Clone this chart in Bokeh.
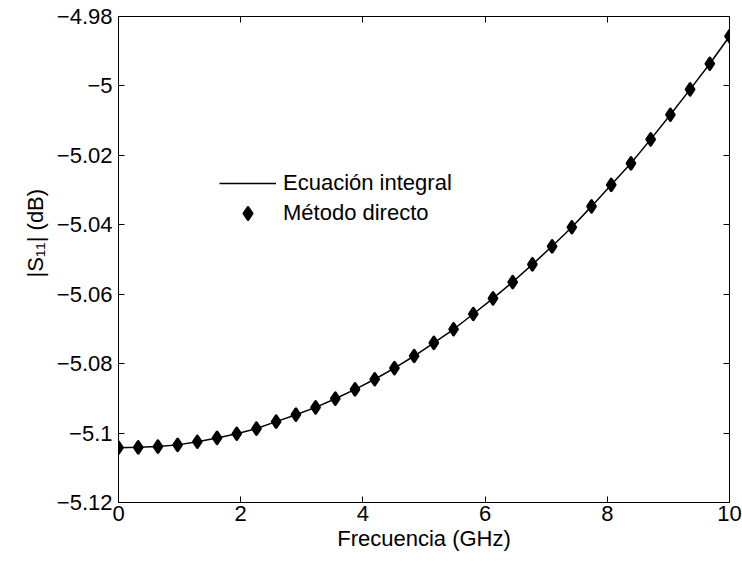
from bokeh.plotting import figure
from bokeh.models import (LinearAxis, FixedTicker, Legend, LegendItem, Range1d,
                          CustomJSTickFormatter, Title)
from bokeh.embed import file_html
from bokeh.resources import INLINE

# Frequency samples (GHz) and reflection magnitude |S11| (dB)
freq_ghz = [0.0, 0.3226, 0.6452, 0.9677, 1.2903, 1.6129, 1.9355, 2.2581,
            2.5806, 2.9032, 3.2258, 3.5484, 3.8710, 4.1935, 4.5161, 4.8387,
            5.1613, 5.4839, 5.8065, 6.1290, 6.4516, 6.7742, 7.0968, 7.4194,
            7.7419, 8.0645, 8.3871, 8.7097, 9.0323, 9.3548, 9.6774, 10.0]

s11_integral = [-5.1042, -5.1041, -5.1039, -5.1034, -5.1025, -5.1014, -5.1002,
                -5.0987, -5.0967, -5.0947, -5.0926, -5.0901, -5.0874, -5.0845,
                -5.0813, -5.0778, -5.0740, -5.0701, -5.0657, -5.0612, -5.0565,
                -5.0514, -5.0462, -5.0407, -5.0347, -5.0285, -5.0223, -5.0154,
                -5.0083, -5.0010, -4.9936, -4.9857]

s11_direct = list(s11_integral)

x_ticks = [0, 2, 4, 6, 8, 10]
y_ticks = [-5.12, -5.10, -5.08, -5.06, -5.04, -5.02, -5.00, -4.98]

FONT = "Liberation Sans"
FSIZE = "22px"

FRAME_L, FRAME_T, FRAME_W, FRAME_H = 118, 16, 611, 486

p = figure(width=742, height=561,
           x_range=Range1d(0, 10), y_range=Range1d(-5.12, -4.98),
           output_backend="svg", toolbar_location=None,
           min_border_left=FRAME_L, min_border_right=742 - FRAME_L - FRAME_W,
           min_border_top=FRAME_T, min_border_bottom=561 - FRAME_T - FRAME_H)

p.xgrid.visible = False
p.ygrid.visible = False
p.outline_line_color = "black"
p.outline_line_width = 1
p.background_fill_color = "white"
p.border_fill_color = "white"

num_fmt = CustomJSTickFormatter(code="""
    let s = Math.abs(tick).toFixed(2).replace(/0+$/, '').replace(/\\.$/, '');
    return (tick < 0 ? '\\u2212' : '') + s;
""")
blank_fmt = CustomJSTickFormatter(code="return '';")

bottom_ax = p.below[0]
left_ax = p.left[0]
bottom_ax.axis_label = "Frecuencia (GHz)"

# extra axes to close the box with inward ticks
top_ax = LinearAxis(formatter=blank_fmt)
right_ax = LinearAxis(formatter=blank_fmt)
p.add_layout(top_ax, "above")
p.add_layout(right_ax, "right")

for ax in [bottom_ax, top_ax]:
    ax.ticker = FixedTicker(ticks=x_ticks, minor_ticks=[])
for ax in [left_ax, right_ax]:
    ax.ticker = FixedTicker(ticks=y_ticks, minor_ticks=[])

left_ax.formatter = num_fmt

for ax in [bottom_ax, left_ax, top_ax, right_ax]:
    ax.axis_line_color = "black"
    ax.axis_line_width = 1
    ax.major_tick_line_color = "black"
    ax.major_tick_in = 6
    ax.major_tick_out = 0
    ax.minor_tick_line_color = None
    ax.major_label_text_font = FONT
    ax.major_label_text_font_size = FSIZE
    ax.major_label_text_color = "black"
    ax.axis_label_text_font = FONT
    ax.axis_label_text_font_size = FSIZE
    ax.axis_label_text_font_style = "normal"
    ax.axis_label_text_color = "black"

bottom_ax.major_label_standoff = 3
bottom_ax.axis_label_standoff = 2
left_ax.major_label_standoff = 6

# y-axis title, placed a little above the middle of the axis
ytitle = Title(text="|S\u2081\u2081| (dB)", align="left", offset=225,
               vertical_align="middle", standoff=10,
               text_font=FONT, text_font_size=FSIZE,
               text_font_style="normal", text_color="black")
p.add_layout(ytitle, "left")

line_r = p.line(freq_ghz, s11_integral, line_color="black", line_width=1.5)
mark_r = p.scatter(freq_ghz, s11_direct, marker="diamond", size=11.5,
                   fill_color="black", line_color="black", line_width=3,
                   line_join="round")

legend = Legend(items=[LegendItem(label="Ecuación integral", renderers=[line_r]),
                       LegendItem(label="Método directo", renderers=[mark_r])],
                location=(101, 274), border_line_color=None,
                background_fill_alpha=0, padding=0, margin=0, spacing=0,
                glyph_width=57, glyph_height=30, label_height=30,
                label_standoff=7,
                label_text_font=FONT, label_text_font_size=FSIZE,
                label_text_color="black")
p.add_layout(legend)

open("out.html", "w").write(file_html(p, INLINE))
